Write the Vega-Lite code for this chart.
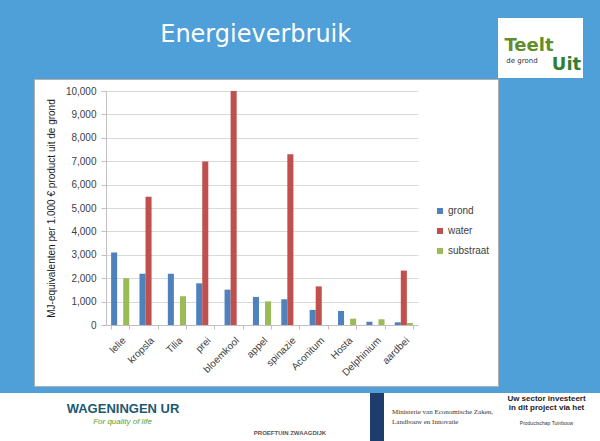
{
  "$schema": "https://vega.github.io/schema/vega-lite/v6.json",
  "background": "#4f9fd8",
  "padding": 0,
  "spacing": 0,
  "config": {
    "font": "Liberation Sans",
    "view": {"stroke": null}
  },
  "vconcat": [
    {
      "hconcat": [
        {
          "width": 498,
          "height": 78,
          "data": {"values": [{"label": "Energieverbruik"}]},
          "mark": {"type": "text", "font": "DejaVu Sans", "fontSize": 24, "color": "white", "baseline": "alphabetic", "dx": 6.7, "dy": 3.3},
          "encoding": {"text": {"field": "label"}}
        },
        {
          "vconcat": [
            {
              "width": 85,
              "height": 18,
              "data": {"values": [{}]},
              "mark": {"type": "point", "opacity": 0},
              "encoding": {}
            },
            {
              "width": 85,
              "height": 60,
              "view": {"fill": "white", "stroke": null},
              "layer": [
                {
                  "data": {"values": [{"t": "Teelt"}]},
                  "mark": {"type": "text", "font": "DejaVu Sans", "fontWeight": "bold", "fontSize": 18, "color": "#5e8e2e", "baseline": "alphabetic", "dx": -11.5, "dy": 3},
                  "encoding": {"text": {"field": "t"}}
                },
                {
                  "data": {"values": [{"t": "Uit"}]},
                  "mark": {"type": "text", "font": "DejaVu Sans", "fontWeight": "bold", "fontSize": 18, "color": "#2f7f34", "baseline": "alphabetic", "dx": 26, "dy": 22},
                  "encoding": {"text": {"field": "t"}}
                },
                {
                  "data": {"values": [{"t": "de grond"}]},
                  "mark": {"type": "text", "font": "DejaVu Sans", "fontSize": 7, "color": "#333333", "baseline": "alphabetic", "dx": -18.5, "dy": 14.5},
                  "encoding": {"text": {"field": "t"}}
                }
              ]
            }
          ],
          "spacing": 0
        }
      ],
      "spacing": 0
    },
    {
      "hconcat": [
        {
          "width": 33,
          "height": 314,
          "data": {"values": [{}]},
          "mark": {"type": "point", "opacity": 0},
          "encoding": {}
        },
        {
          "width": 464,
          "height": 307,
          "view": {"fill": "white", "stroke": "#b0b0b0"},
          "data": {
            "values": [
              {"gewas": "lelie", "type": "grond", "waarde": 3100},
              {"gewas": "lelie", "type": "substraat", "waarde": 2000},
              {"gewas": "kropsla", "type": "grond", "waarde": 2190},
              {"gewas": "kropsla", "type": "water", "waarde": 5480},
              {"gewas": "Tilia", "type": "grond", "waarde": 2190},
              {"gewas": "Tilia", "type": "substraat", "waarde": 1230},
              {"gewas": "prei", "type": "grond", "waarde": 1780},
              {"gewas": "prei", "type": "water", "waarde": 6990},
              {"gewas": "bloemkool", "type": "grond", "waarde": 1510},
              {"gewas": "bloemkool", "type": "water", "waarde": 10000},
              {"gewas": "appel", "type": "grond", "waarde": 1200},
              {"gewas": "appel", "type": "substraat", "waarde": 1010},
              {"gewas": "spinazie", "type": "grond", "waarde": 1100},
              {"gewas": "spinazie", "type": "water", "waarde": 7300},
              {"gewas": "Aconitum", "type": "grond", "waarde": 645},
              {"gewas": "Aconitum", "type": "water", "waarde": 1650},
              {"gewas": "Hosta", "type": "grond", "waarde": 600},
              {"gewas": "Hosta", "type": "substraat", "waarde": 270},
              {"gewas": "Delphinium", "type": "grond", "waarde": 140},
              {"gewas": "Delphinium", "type": "substraat", "waarde": 245},
              {"gewas": "aardbei", "type": "grond", "waarde": 115},
              {"gewas": "aardbei", "type": "water", "waarde": 2325},
              {"gewas": "aardbei", "type": "substraat", "waarde": 85}
            ]
          },
          "mark": {"type": "bar"},
          "encoding": {
            "x": {
              "field": "gewas",
              "type": "nominal",
              "sort": null,
              "scale": {"range": [72, 384], "paddingInner": 0.36, "paddingOuter": 0.18},
              "axis": {
                "title": null,
                "offset": -61,
                "grid": false,
                "domainColor": "#bfbfbf",
                "tickColor": "#bfbfbf",
                "tickSize": 4,
                "tickBand": "extent",
                "labelAngle": -45,
                "labelFontSize": 10,
                "labelColor": "#404040",
                "labelPadding": 6
              }
            },
            "xOffset": {
              "field": "type",
              "type": "nominal",
              "scale": {"domain": ["grond", "water", "substraat"], "paddingInner": 0, "paddingOuter": 0}
            },
            "y": {
              "field": "waarde",
              "type": "quantitative",
              "scale": {"domain": [0, 10000], "range": [246, 12], "nice": false},
              "axis": {
                "title": "MJ-equivalenten per 1.000 € product uit de grond",
                "offset": -72,
                "values": [0, 1000, 2000, 3000, 4000, 5000, 6000, 7000, 8000, 9000, 10000],
                "format": ",.0f",
                "labelFontSize": 10,
                "labelColor": "#404040",
                "labelPadding": 5,
                "tickSize": 5,
                "tickColor": "#bfbfbf",
                "domainColor": "#bfbfbf",
                "gridColor": "#d9d9d9",
                "titleFontSize": 10,
                "titleFontWeight": "normal",
                "titleColor": "#1a1a1a",
                "titlePadding": 9
              }
            },
            "color": {
              "field": "type",
              "type": "nominal",
              "scale": {"domain": ["grond", "water", "substraat"], "range": ["#4f81bd", "#c0504d", "#9bbb59"]},
              "legend": {
                "title": null,
                "orient": "none",
                "legendX": 435,
                "legendY": 206,
                "symbolType": "square",
                "symbolSize": 36,
                "symbolStrokeWidth": 0,
                "labelFontSize": 10,
                "labelColor": "#404040",
                "rowPadding": 10,
                "labelOffset": 3,
                "padding": 0
              }
            }
          }
        }
      ],
      "spacing": 0
    },
    {
      "hconcat": [
        {
          "width": 245,
          "height": 49,
          "view": {"fill": "white", "stroke": null},
          "layer": [
            {
              "data": {"values": [{"t": "WAGENINGEN UR"}]},
              "mark": {"type": "text", "fontWeight": "bold", "fontSize": 13, "color": "#1b5a70", "baseline": "alphabetic", "dx": 0.5, "dy": -4.5},
              "encoding": {"text": {"field": "t"}}
            },
            {
              "data": {"values": [{"t": "For quality of life"}]},
              "mark": {"type": "text", "fontStyle": "italic", "fontSize": 8, "color": "#5aa02c", "baseline": "alphabetic", "dy": 6.5},
              "encoding": {"text": {"field": "t"}}
            }
          ]
        },
        {
          "width": 90,
          "height": 49,
          "view": {"fill": "white", "stroke": null},
          "data": {"values": [{"t": "PROEFTUIN ZWAAGDIJK"}]},
          "mark": {"type": "text", "fontWeight": "bold", "fontSize": 6, "color": "#555555", "baseline": "alphabetic", "dy": 17.5},
          "encoding": {"text": {"field": "t"}}
        },
        {
          "width": 35,
          "height": 49,
          "view": {"fill": "white", "stroke": null},
          "data": {"values": [{}]},
          "mark": {"type": "point", "opacity": 0},
          "encoding": {}
        },
        {
          "width": 14,
          "height": 49,
          "view": {"fill": "#1f3d6c", "stroke": null},
          "data": {"values": [{}]},
          "mark": {"type": "point", "opacity": 0},
          "encoding": {}
        },
        {
          "width": 116,
          "height": 49,
          "view": {"fill": "white", "stroke": null},
          "data": {"values": [{"t": "Ministerie van Economische Zaken,\nLandbouw en Innovatie"}]},
          "mark": {"type": "text", "font": "Liberation Serif", "fontSize": 7, "color": "#333333", "align": "left", "baseline": "alphabetic", "lineBreak": "\n", "lineHeight": 10, "dx": -50, "dy": -3.5},
          "encoding": {"text": {"field": "t"}}
        },
        {
          "width": 100,
          "height": 49,
          "view": {"fill": "white", "stroke": null},
          "layer": [
            {
              "data": {"values": [{"t": "Uw sector investeert\nin dit project via het"}]},
              "mark": {"type": "text", "fontWeight": "bold", "fontSize": 8, "color": "#222222", "baseline": "alphabetic", "lineBreak": "\n", "lineHeight": 9, "dx": -3.5, "dy": -16.5},
              "encoding": {"text": {"field": "t"}}
            },
            {
              "data": {"values": [{"t": "Productschap      Tuinbouw"}]},
              "mark": {"type": "text", "fontSize": 5, "color": "#333333", "baseline": "alphabetic", "dx": -3.5, "dy": 7},
              "encoding": {"text": {"field": "t"}}
            }
          ]
        }
      ],
      "spacing": 0
    }
  ]
}
